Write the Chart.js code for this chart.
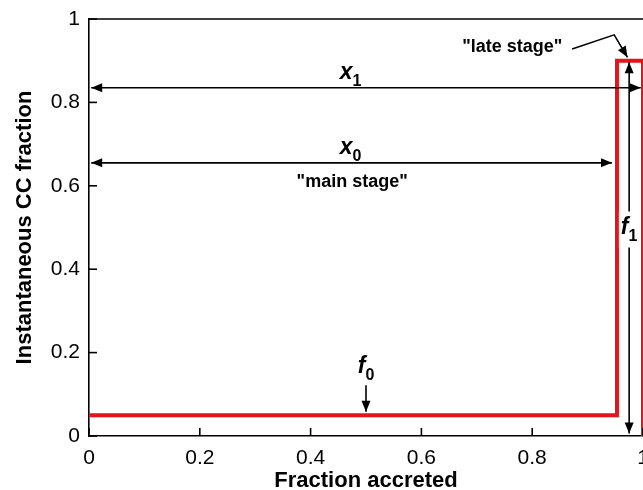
<!DOCTYPE html>
<html lang="en">
<head>
  <meta charset="UTF-8">
  <title>Instantaneous CC fraction</title>
  <script src="https://cdn.jsdelivr.net/npm/chart.js"></script>
  <style>
    html, body { margin: 0; padding: 0; background: #fff; }
    #wrap { width: 643px; height: 490px; }
  </style>
</head>
<body>
  <div id="wrap"><canvas id="ccChart"></canvas></div>
  <script>
    // step curve of the CC fraction
    const stepX = [0, 0.953, 0.953, 1, 1]
    const stepY = [0.05, 0.05, 0.9, 0.9, 0]
    const xTicks = [0, 0.2, 0.4, 0.6, 0.8, 1]
    const yTicks = [0, 0.2, 0.4, 0.6, 0.8, 1]
    const tickLabels = ['0', '0.2', '0.4', '0.6', '0.8', '1']

    // double arrows: [x start, y start, x end, y end]
    const arrowX1 = [0.004, 0.835, 0.996, 0.835]
    const arrowX0 = [0.004, 0.655, 0.944, 0.655]
    const arrowF1 = [0.975, 0.006, 0.975, 0.896]
    // single arrow for f0
    const arrowF0 = [0.5, 0.122, 0.5, 0.058]
    // leader line for "late stage"
    const leaderX = [0.872, 0.948, 0.972]
    const leaderY = [0.928, 0.962, 0.908]

    const FONT = '"Liberation Sans", Arial, Helvetica, sans-serif'

    const arrowHead = (ctx, x0, y0, x1, y1) => {
      const ang = Math.atan2(y1 - y0, x1 - x0)
      const len = 11, half = 4.5
      ctx.beginPath()
      ctx.moveTo(x1, y1)
      ctx.lineTo(x1 - len * Math.cos(ang) + half * Math.sin(ang), y1 - len * Math.sin(ang) - half * Math.cos(ang))
      ctx.lineTo(x1 - len * Math.cos(ang) - half * Math.sin(ang), y1 - len * Math.sin(ang) + half * Math.cos(ang))
      ctx.closePath()
      ctx.fill()
    }

    const subLabel = (ctx, main, sub, cx, cy, bg) => {
      ctx.font = 'italic bold 23px ' + FONT
      const w1 = ctx.measureText(main).width
      ctx.font = 'bold 16px ' + FONT
      const w2 = ctx.measureText(sub).width
      const left = cx - (w1 + w2) / 2
      if (bg) {
        ctx.fillStyle = '#fff'
        ctx.fillRect(left - 2, cy - 16, w1 + w2 + 4, 36)
      }
      ctx.fillStyle = '#000'
      ctx.textAlign = 'left'
      ctx.textBaseline = 'alphabetic'
      ctx.font = 'italic bold 23px ' + FONT
      ctx.fillText(main, left, cy + 6)
      ctx.font = 'bold 16px ' + FONT
      ctx.fillText(sub, left + w1, cy + 13)
    }

    const annotations = {
      id: 'annotations',
      afterDatasetsDraw(chart) {
        const { ctx, chartArea, scales: { x, y } } = chart
        ctx.save()
        ctx.strokeStyle = '#000'
        ctx.fillStyle = '#000'
        ctx.lineWidth = 1.6

        // inward ticks
        xTicks.forEach(v => {
          const px = x.getPixelForValue(v)
          ctx.beginPath(); ctx.moveTo(px, chartArea.bottom); ctx.lineTo(px, chartArea.bottom - 8); ctx.stroke()
        })
        yTicks.forEach(v => {
          const py = y.getPixelForValue(v)
          ctx.beginPath(); ctx.moveTo(chartArea.left, py); ctx.lineTo(chartArea.left + 8, py); ctx.stroke()
        })
        // top frame line
        ctx.beginPath(); ctx.moveTo(chartArea.left, chartArea.top); ctx.lineTo(chartArea.right, chartArea.top); ctx.stroke()

        const dbl = a => {
          const p0 = [x.getPixelForValue(a[0]), y.getPixelForValue(a[1])]
          const p1 = [x.getPixelForValue(a[2]), y.getPixelForValue(a[3])]
          ctx.beginPath(); ctx.moveTo(p0[0], p0[1]); ctx.lineTo(p1[0], p1[1]); ctx.stroke()
          arrowHead(ctx, p0[0], p0[1], p1[0], p1[1])
          arrowHead(ctx, p1[0], p1[1], p0[0], p0[1])
        }
        dbl(arrowX1)
        dbl(arrowX0)
        dbl(arrowF1)

        // f0 arrow
        const a0 = [x.getPixelForValue(arrowF0[0]), y.getPixelForValue(arrowF0[1])]
        const a1 = [x.getPixelForValue(arrowF0[2]), y.getPixelForValue(arrowF0[3])]
        ctx.beginPath(); ctx.moveTo(a0[0], a0[1]); ctx.lineTo(a1[0], a1[1]); ctx.stroke()
        arrowHead(ctx, a0[0], a0[1], a1[0], a1[1])

        // leader
        ctx.beginPath()
        leaderX.forEach((v, i) => {
          const px = x.getPixelForValue(v), py = y.getPixelForValue(leaderY[i])
          i === 0 ? ctx.moveTo(px, py) : ctx.lineTo(px, py)
        })
        ctx.stroke()
        const n = leaderX.length
        arrowHead(ctx, x.getPixelForValue(leaderX[n - 2]), y.getPixelForValue(leaderY[n - 2]),
          x.getPixelForValue(leaderX[n - 1]), y.getPixelForValue(leaderY[n - 1]))

        // labels
        subLabel(ctx, 'x', '1', x.getPixelForValue(0.472), y.getPixelForValue(0.87), false)
        subLabel(ctx, 'x', '0', x.getPixelForValue(0.472), y.getPixelForValue(0.69), false)
        subLabel(ctx, 'f', '0', x.getPixelForValue(0.5), y.getPixelForValue(0.165), false)
        subLabel(ctx, 'f', '1', x.getPixelForValue(0.975), y.getPixelForValue(0.5), true)

        ctx.fillStyle = '#000'
        ctx.textAlign = 'center'
        ctx.textBaseline = 'middle'
        ctx.font = 'bold 18px ' + FONT
        ctx.fillText('"main stage"', x.getPixelForValue(0.475), y.getPixelForValue(0.608))
        ctx.fillText('"late stage"', x.getPixelForValue(0.764), y.getPixelForValue(0.932))
        ctx.restore()
      }
    }

    const ctx = document.getElementById('ccChart')
    new Chart(ctx, {
      type: 'scatter',
      data: {
        datasets: [{
          data: stepX.map((v, i) => ({ x: v, y: stepY[i] })),
          showLine: true,
          borderColor: '#e3151a',
          borderWidth: 4,
          pointRadius: 0,
          clip: false,
        }]
      },
      options: {
        responsive: true,
        maintainAspectRatio: false,
        animation: false,
        layout: { padding: { top: 19, right: 0, bottom: 0, left: 0 } },
        plugins: { legend: { display: false }, tooltip: { enabled: false } },
        scales: {
          x: {
            type: 'linear',
            min: 0,
            max: 1,
            afterBuildTicks: scale => { scale.ticks = xTicks.map(v => ({ value: v })) },
            afterFit: scale => { scale.height = 54; scale.paddingLeft = 0; scale.paddingRight = 0 },
            grid: { display: false, drawTicks: false },
            border: { display: true, color: '#000', width: 1.6 },
            ticks: {
              padding: 10,
              color: '#000',
              font: { family: FONT, size: 21 },
              callback: v => tickLabels[xTicks.indexOf(v)],
              maxRotation: 0,
            },
            title: {
              display: true,
              text: 'Fraction accreted',
              color: '#000',
              font: { family: FONT, size: 22, weight: 'bold' },
              padding: { top: 0, bottom: -4 },
            },
          },
          y: {
            type: 'linear',
            min: 0,
            max: 1,
            afterBuildTicks: scale => { scale.ticks = yTicks.map(v => ({ value: v })) },
            afterFit: scale => { scale.width = 89; scale.paddingTop = 0; scale.paddingBottom = 0 },
            grid: { display: false, drawTicks: false },
            border: { display: true, color: '#000', width: 1.6 },
            ticks: {
              padding: 9,
              color: '#000',
              font: { family: FONT, size: 21 },
              callback: v => tickLabels[yTicks.indexOf(v)],
            },
            title: {
              display: true,
              text: 'Instantaneous CC fraction',
              color: '#000',
              font: { family: FONT, size: 22, weight: 'bold' },
              padding: { top: 12, bottom: 0 },
            },
          },
        },
      },
      plugins: [annotations],
    })
  </script>
</body>
</html>
